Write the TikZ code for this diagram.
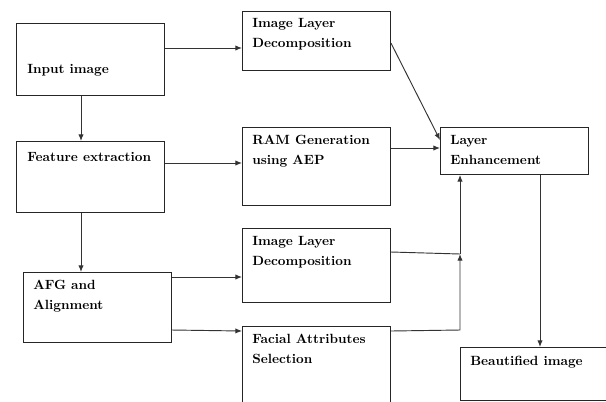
\documentclass[tikz,border=0pt]{standalone}
\usetikzlibrary{arrows.meta}
\begin{document}
\begin{tikzpicture}[x=0.75pt,y=-0.75pt,
  box/.style={draw=black!85,line width=0.7pt,inner sep=0pt,anchor=north west},
  lbl/.style={font=\fontsize{10}{15}\selectfont\bfseries,align=left,anchor=west,inner sep=0pt},
  arr/.style={draw=black!80,line width=0.7pt,-{Latex[length=5pt,width=4pt]}},
  ln/.style={draw=black!80,line width=0.7pt}]
\clip (0,0) rectangle (606,401);
\fill[white] (0,0) rectangle (606,401);
% boxes
\node[box,minimum width=148*0.75pt,minimum height=72*0.75pt] (in) at (16,23) {};
\node[box,minimum width=148*0.75pt,minimum height=59*0.75pt] (ild1) at (242,11) {};
\node[box,minimum width=148*0.75pt,minimum height=71*0.75pt] (fe) at (16,141) {};
\node[box,minimum width=148*0.75pt,minimum height=78*0.75pt] (ram) at (242,127) {};
\node[box,minimum width=148*0.75pt,minimum height=47*0.75pt] (le) at (440,127) {};
\node[box,minimum width=148*0.75pt,minimum height=70*0.75pt] (afg) at (23,272) {};
\node[box,minimum width=148*0.75pt,minimum height=74*0.75pt] (ild2) at (242,228) {};
\node[box,minimum width=148*0.75pt,minimum height=94*0.75pt] (fas) at (242,326) {};
\node[box,minimum width=160*0.75pt,minimum height=53*0.75pt] (bi) at (460,347) {};
% labels
\node[lbl] (tin) at (27,70) {Input image};
\node[lbl] (tild1) at (252,34) {Image Layer\\Decomposition};
\node[lbl] (tfe) at (27,157) {Feature extraction};
\node[lbl] (tram) at (252,151) {RAM Generation\\using AEP};
\node[lbl] (tle) at (450,150) {Layer\\Enhancement};
\node[lbl] (tafg) at (33,296) {AFG and\\Alignment};
\node[lbl] (tild2) at (252,252) {Image Layer\\Decomposition};
\node[lbl] (tfas) at (252,349) {Facial Attributes\\Selection};
\node[lbl] (tbi) at (470,362) {Beautified image};
% connectors
\draw[arr] (in.east |- 0,48) -- (ild1.west |- 0,48);
\draw[arr] (in.south -| 81,0) -- (fe.north -| 81,0);
\draw[arr] (fe.east |- 0,163) -- (ram.west |- 0,163);
\draw[arr] (ild1.east |- 0,43) -- (le.west |- 0,140);
\draw[arr] (ram.east |- 0,148) -- (le.west |- 0,148);
\draw[arr] (fe.south -| 81,0) -- (afg.north -| 81,0);
\draw[arr] (afg.east |- 0,277) -- (ild2.west |- 0,277);
\draw[arr] (afg.east |- 0,330) -- (fas.west |- 0,331);
\coordinate (j) at (460,254);
\draw[ln] (ild2.east |- 0,252) -- (j);
\draw[arr] (fas.east |- 0,331) -- (460,330) -- (j);
\draw[arr] (j) -- (le.south -| j);
\draw[arr] (le.south -| 540,0) -- (bi.north -| 540,0);
\end{tikzpicture}
\end{document}
